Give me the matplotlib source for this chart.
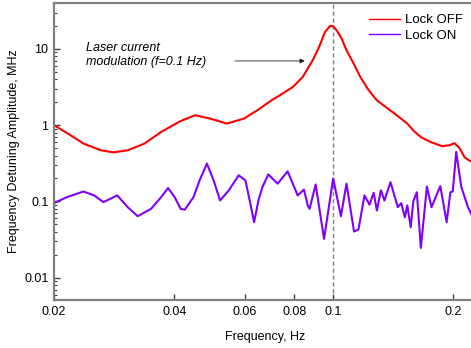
import matplotlib
matplotlib.use("Agg")
import matplotlib.pyplot as plt
from matplotlib.ticker import FixedLocator, NullLocator, LogLocator, NullFormatter

plt.rcParams['font.family'] = ['Liberation Sans', 'DejaVu Sans']

# Lock OFF (red)
f_off = [0.02, 0.022, 0.0237, 0.0262, 0.0282, 0.0306, 0.0337, 0.0371, 0.0413, 0.0451,
         0.0492, 0.0542, 0.0598, 0.0646, 0.0702, 0.0734,
         0.0792, 0.0839, 0.089, 0.0922, 0.0954, 0.0983, 0.1, 0.1018, 0.1048, 0.1079,
         0.1124, 0.117, 0.1226, 0.1285, 0.1419, 0.153, 0.1594, 0.166, 0.176, 0.1876,
         0.1955, 0.2013, 0.2073, 0.2133, 0.2208, 0.2275]
a_off = [1.0, 0.738, 0.574, 0.469, 0.44, 0.469, 0.574, 0.817, 1.12, 1.35,
         1.22, 1.05, 1.22, 1.57, 2.13, 2.45,
         3.16, 4.28, 7.2, 10.6, 16.7, 20.1, 19.8, 17.8, 14.0, 9.7,
         6.5, 4.28, 2.89, 2.13, 1.44, 1.06, 0.834, 0.695, 0.597, 0.53,
         0.546, 0.58, 0.498, 0.38, 0.336, 0.316]

# Lock ON (purple)
f_on = [0.02, 0.02155, 0.0237, 0.0252, 0.0266, 0.0288, 0.0306, 0.0324, 0.035, 0.0371,
        0.0386, 0.0401, 0.0415, 0.0425, 0.0447, 0.0463, 0.0483, 0.0502, 0.0521, 0.0548,
        0.058, 0.0603, 0.0618, 0.0634, 0.065, 0.0665, 0.0688, 0.0726, 0.0769, 0.0815,
        0.0845, 0.0864, 0.0873, 0.0904, 0.0949, 0.1, 0.1046, 0.108, 0.1128, 0.1157,
        0.1198, 0.1233, 0.1263, 0.1287, 0.1317, 0.1344, 0.1392, 0.1452, 0.148, 0.1512,
        0.1533, 0.1564, 0.1588, 0.162, 0.1658, 0.1717, 0.1763, 0.1855, 0.1924, 0.1966,
        0.1993, 0.2033, 0.2094, 0.2176, 0.2275]
a_on = [0.095, 0.114, 0.135, 0.12, 0.098, 0.12, 0.084, 0.064, 0.08, 0.114,
        0.15, 0.114, 0.08, 0.078, 0.114, 0.189, 0.313, 0.189, 0.103, 0.14,
        0.22, 0.189, 0.103, 0.0534, 0.103, 0.154, 0.226, 0.171, 0.248, 0.12,
        0.143, 0.0886, 0.08, 0.167, 0.0323, 0.2, 0.064, 0.171, 0.0403, 0.0428,
        0.12, 0.0906, 0.13, 0.076, 0.14, 0.103, 0.179, 0.084, 0.095, 0.062,
        0.0886, 0.0459, 0.101, 0.132, 0.0246, 0.157, 0.084, 0.159, 0.0534, 0.132,
        0.135, 0.446, 0.154, 0.084, 0.0514]

x_ticks = [0.02, 0.04, 0.06, 0.08, 0.1, 0.2]
x_ticklabels = ['0.02', '0.04', '0.06', '0.08', '0.1', '0.2']
y_ticks = [0.01, 0.1, 1, 10]
y_ticklabels = ['0.01', '0.1', '1', '10']

RED = '#ff0000'
PURPLE = '#8000ff'
SPINE = '#808080'

fig = plt.figure(figsize=(4.71, 3.48), dpi=100)
ax = fig.add_axes([54 / 471, 1 - 300 / 348, 1 - 54 / 471 + 0.01, (300 - 3) / 348])

ax.plot(f_off, a_off, color=RED, lw=1.5, label='Lock OFF')
ax.plot(f_on, a_on, color=PURPLE, lw=1.5, label='Lock ON')
ax.axvline(0.1, color='#808080', lw=1.0, ls=(0, (3, 2)), zorder=0)

ax.set_xscale('log')
ax.set_yscale('log')
ax.set_xlim(0.02, 0.2275)
ax.set_ylim(0.0051, 40)

ax.xaxis.set_major_locator(FixedLocator(x_ticks))
ax.set_xticklabels(x_ticklabels)
ax.xaxis.set_minor_locator(NullLocator())
ax.yaxis.set_major_locator(FixedLocator(y_ticks))
ax.set_yticklabels(y_ticklabels)
ax.yaxis.set_minor_locator(LogLocator(base=10, subs=range(2, 10)))
ax.yaxis.set_minor_formatter(NullFormatter())

ax.tick_params(which='major', direction='in', length=4, width=1, color='#404040',
               labelsize=9, pad=4)
ax.tick_params(which='minor', direction='in', length=2, width=0.8, color='#404040')

for side in ['left', 'bottom', 'top']:
    ax.spines[side].set_color(SPINE)
    ax.spines[side].set_linewidth(1.6)
ax.spines['right'].set_visible(False)

ax.set_xlabel('Frequency, Hz', fontsize=9, labelpad=10)
ax.set_ylabel('Frequency Detuning Amplitude, MHz', fontsize=9, labelpad=3)

ax.text(0.0241, 8.3, 'Laser current\nmodulation (f=0.1 Hz)', fontsize=9,
        style='italic', va='center', ha='left', linespacing=1.3)
ax.annotate('', xy=(0.0849, 6.95), xytext=(0.0568, 6.95),
            arrowprops=dict(arrowstyle='-|>', color='#202020', lw=0.6,
                            mutation_scale=7, shrinkA=0, shrinkB=0))

leg = ax.legend(loc='upper left', bbox_to_anchor=(369 / 471, 1 - 14 / 348),
                bbox_transform=fig.transFigure, frameon=False, fontsize=9.5,
                borderpad=0, borderaxespad=0, handlelength=2.35,
                handletextpad=0.4, labelspacing=0.25)
for line in leg.get_lines():
    line.set_linewidth(1.0)

fig.savefig('out.png', dpi=100)
